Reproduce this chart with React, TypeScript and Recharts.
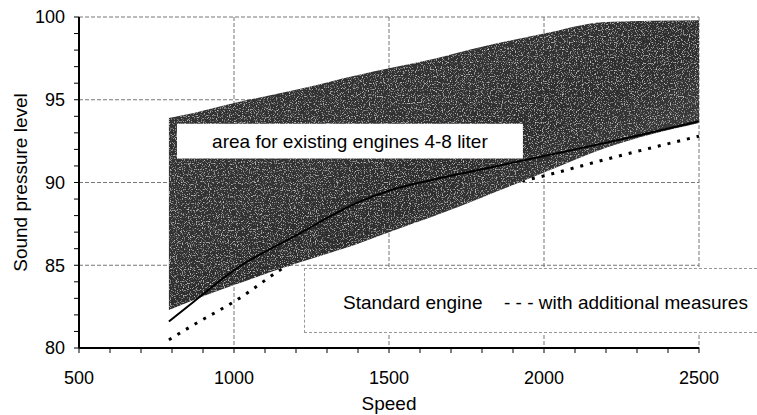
import {
  ComposedChart,
  Area,
  Line,
  XAxis,
  YAxis,
  CartesianGrid,
  ReferenceArea,
} from 'recharts';

// values
const speeds = [790, 870, 1000, 1200, 1400, 1500, 1650, 1800, 2000, 2200, 2500];
const areaLow = [82.3, 82.9, 83.8, 85.1, 86.3, 87.0, 88.0, 89.1, 90.6, 92.1, 93.6];
const areaHigh = [93.9, 94.2, 94.8, 95.6, 96.5, 96.9, 97.5, 98.2, 99.0, 99.7, 99.8];
const standardEngine = [81.6, 82.8, 84.7, 86.8, 88.8, 89.5, 90.2, 90.8, 91.6, 92.4, 93.7];
const additionalMeasures = [80.5, 81.4, 82.8, 85.3, 86.8, 87.5, 88.4, 89.5, 90.4, 91.4, 92.8];

const xTicks = [
  500, 600, 700, 800, 900, 1000, 1100, 1200, 1300, 1400, 1500, 1600, 1700, 1800, 1900, 2000,
  2100, 2200, 2300, 2400, 2500,
];
const yTicks = [80, 81, 82, 83, 84, 85, 86, 87, 88, 89, 90, 91, 92, 93, 94, 95, 96, 97, 98, 99, 100];
const xGrid = [1000, 1500, 2000, 2500];
const yGrid = [85, 90, 95, 100];

const chartData = speeds.map((s, i) => ({
  speed: s,
  range: [areaLow[i], areaHigh[i]],
  standard: standardEngine[i],
  additional: additionalMeasures[i],
}));

const font = '"Liberation Sans", Arial, sans-serif';

export default function App() {
  return (
    <div
      style={{
        position: 'absolute',
        left: 0,
        top: 0,
        width: 757,
        height: 415,
        background: '#fff',
        fontFamily: font,
      }}
    >
      <ComposedChart
        width={757}
        height={415}
        data={chartData}
        margin={{ top: 17, right: 58, left: 0, bottom: 0 }}
      >
        <defs>
          <linearGradient id="areaFill" x1="0" y1="0" x2="1" y2="1">
            <stop offset="0%" stopColor="#363636" />
            <stop offset="55%" stopColor="#2e2e2e" />
            <stop offset="100%" stopColor="#606060" />
          </linearGradient>
          {/* speckled, scanned-looking grain for the shaded band */}
          <filter id="grain" x="0" y="0" width="100%" height="100%">
            <feTurbulence type="fractalNoise" baseFrequency="0.85" numOctaves={2} seed={3} result="noise" />
            <feColorMatrix
              in="noise"
              type="matrix"
              values="0 0 0 0 1  0 0 0 0 1  0 0 0 0 1  0 0 0 2 -1.1"
              result="specks"
            />
            <feComposite in="specks" in2="SourceGraphic" operator="in" result="clipped" />
            <feMerge>
              <feMergeNode in="SourceGraphic" />
              <feMergeNode in="clipped" />
            </feMerge>
          </filter>
        </defs>
        <CartesianGrid
          horizontalValues={yGrid}
          verticalValues={xGrid}
          stroke="#777"
          strokeDasharray="4 2"
        />
        <XAxis
          dataKey="speed"
          type="number"
          domain={[500, 2500]}
          ticks={xTicks}
          interval={0}
          tickFormatter={(v: number) => (v % 500 === 0 ? String(v) : '')}
          axisLine={{ stroke: '#000', strokeWidth: 2 }}
          tickLine={{ stroke: '#000' }}
          tickSize={5}
          tickMargin={18}
          tick={{ fill: '#000', fontSize: 18 }}
          height={67}
          label={{ value: 'Speed', position: 'insideBottom', offset: 5, fill: '#000', fontSize: 19 }}
        />
        <YAxis
          type="number"
          domain={[80, 100]}
          ticks={yTicks}
          interval={0}
          tickFormatter={(v: number) => (v % 5 === 0 ? String(v) : '')}
          axisLine={{ stroke: '#000', strokeWidth: 2 }}
          tickLine={{ stroke: '#000' }}
          tickSize={5}
          tickMargin={9}
          tick={{ fill: '#000', fontSize: 18 }}
          width={79}
          label={{
            value: 'Sound pressure level',
            angle: -90,
            position: 'insideLeft',
            offset: 20,
            fill: '#000',
            fontSize: 19,
            style: { textAnchor: 'middle' },
          }}
        />
        {/* dotted line sits under the shaded band, the solid one over it */}
        <Line
          type="monotone"
          dataKey="additional"
          stroke="#000"
          strokeWidth={3}
          strokeDasharray="3 7"
          dot={false}
          activeDot={false}
          isAnimationActive={false}
          zIndex={150}
        />
        <Area
          type="monotone"
          dataKey="range"
          stroke="none"
          fill="url(#areaFill)"
          fillOpacity={1}
          filter="url(#grain)"
          activeDot={false}
          isAnimationActive={false}
          zIndex={200}
        />
        <Line
          type="monotone"
          dataKey="standard"
          stroke="#000"
          strokeWidth={2}
          dot={false}
          activeDot={false}
          isAnimationActive={false}
          zIndex={300}
        />
        <ReferenceArea
          x1={816}
          x2={1932}
          y1={91.45}
          y2={93.55}
          fill="#fff"
          fillOpacity={1}
          stroke="none"
          zIndex={350}
          label={{
            value: 'area for existing engines 4-8 liter',
            position: 'center',
            fill: '#000',
            fontSize: 19,
          }}
        />
      </ComposedChart>
      <div
        style={{
          position: 'absolute',
          left: 304,
          top: 268,
          width: 453,
          height: 65,
          boxSizing: 'border-box',
          border: '1px dashed #999',
          borderRight: 'none',
          background: '#fff',
          fontSize: 19,
          color: '#000',
        }}
      >
        <span style={{ position: 'absolute', left: 38, top: 23 }}>Standard engine</span>
        <span style={{ position: 'absolute', left: 199, top: 23 }}>- - - with additional measures</span>
      </div>
    </div>
  );
}
